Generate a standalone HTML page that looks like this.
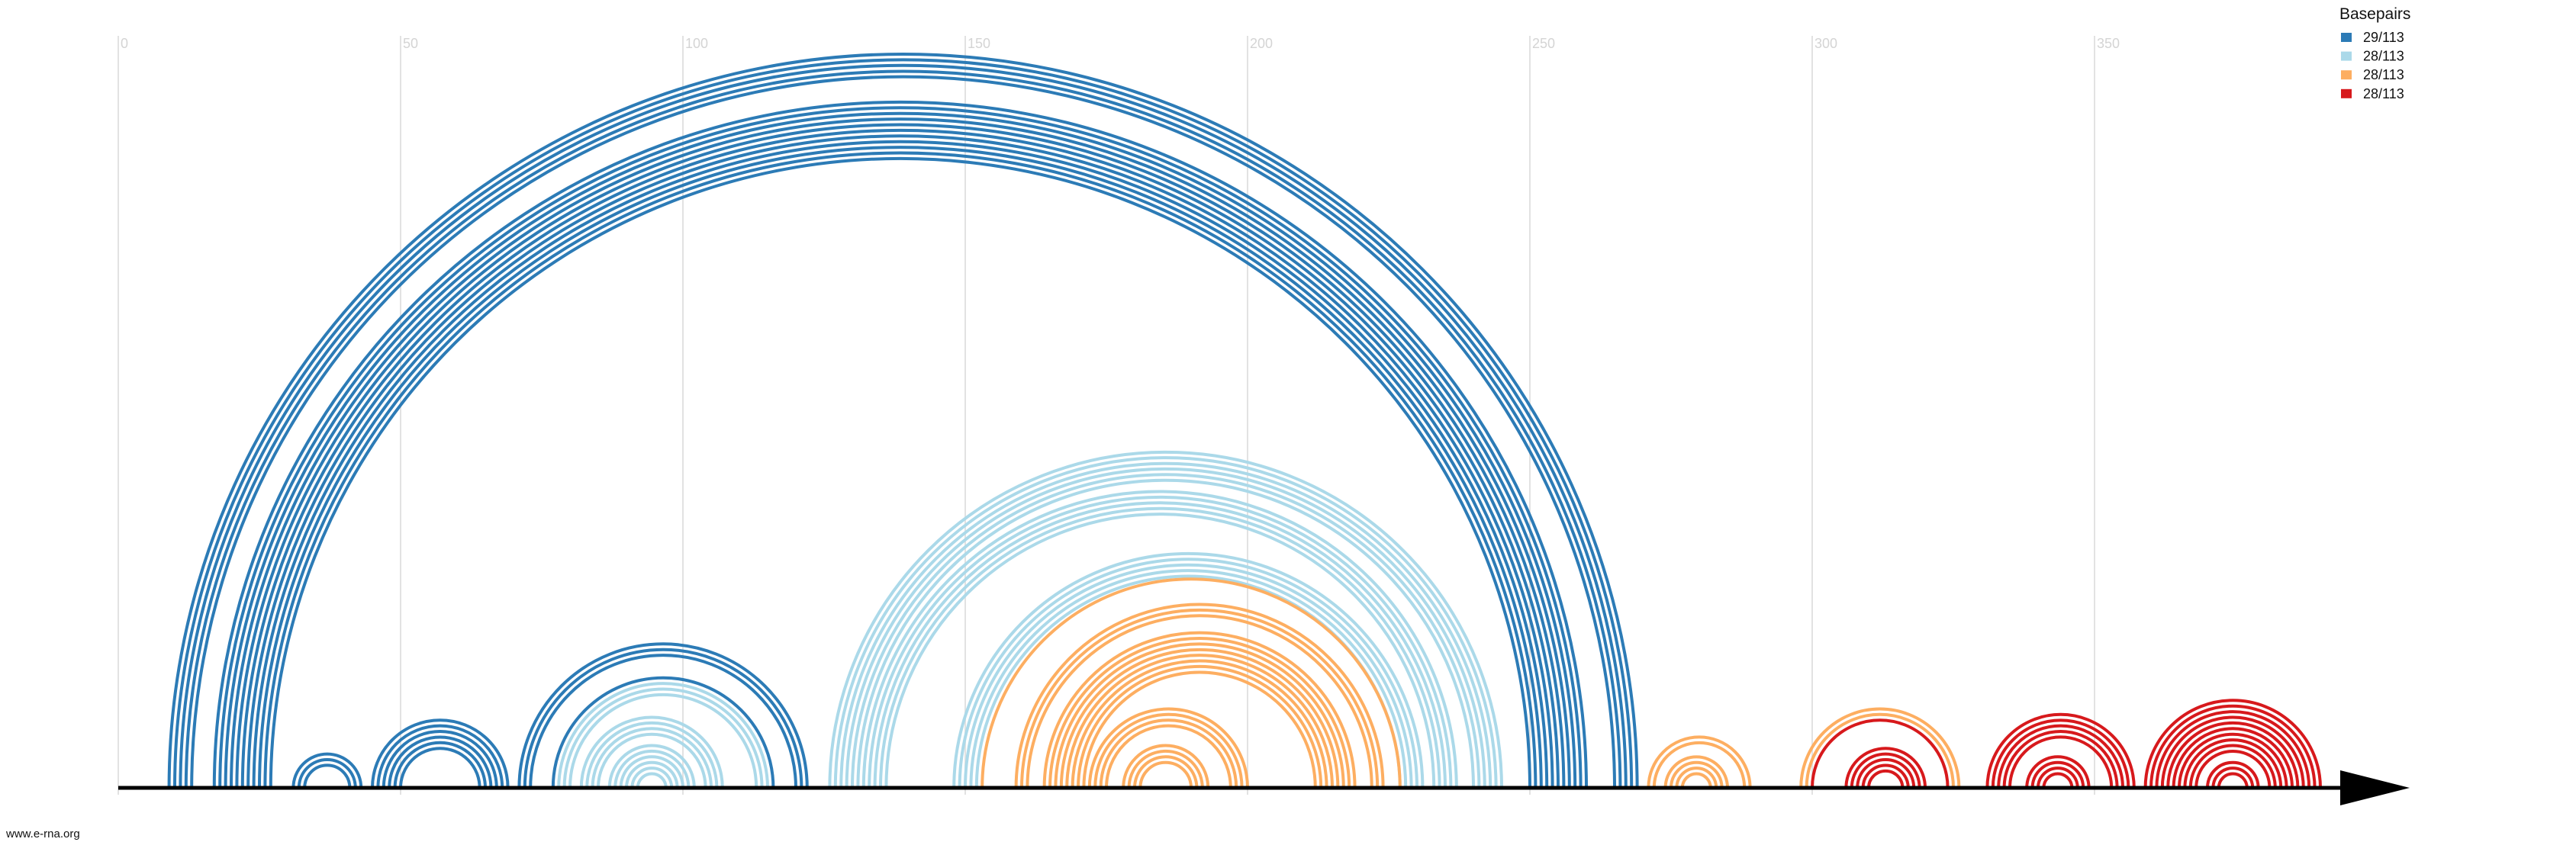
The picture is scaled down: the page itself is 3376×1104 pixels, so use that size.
<!DOCTYPE html>
<html><head><meta charset="utf-8"><style>
html,body{margin:0;padding:0;background:#fff;}
svg{display:block;font-family:"Liberation Sans",sans-serif;}
</style></head>
<body>
<svg id="chart" width="3376" height="1104" viewBox="0 0 3376 1104" xmlns="http://www.w3.org/2000/svg">
<g id="grid"></g>
<g id="arcs"></g>
<g id="axis">
<line x1="155" y1="1033" x2="3080" y2="1033" stroke="#000" stroke-width="5"/>
<polygon points="3067,1010 3158,1033 3067,1056" fill="#000"/>
</g>
<g id="legend">
<text x="3066" y="25" font-size="21" fill="#111">Basepairs</text>
</g>
<text x="8" y="1098" font-size="15" fill="#111">www.e-rna.org</text>
</svg>
<script>
const tickValues = [0,50,100,150,200,250,300,350];
const seriesColors = ["#2c7bb6","#abd9e9","#fdae61","#d7191c"];
const legendLabels = ["29/113","28/113","28/113","28/113"];
const blueStart = [9,10,11,12,13,17,18,19,20,21,22,23,24,25,26,27,31,32,33,45,46,47,48,49,50,71,72,73,77];
const blueEnd   = [269,268,267,266,265,260,259,258,257,256,255,254,253,252,251,250,43,42,41,69,68,67,66,65,64,122,121,120,116];
const lightStart = [78,79,80,82,83,84,85,87,88,89,90,91,92,126,127,128,129,130,131,132,133,134,135,136,148,149,150,151,152];
const lightEnd   = [115,114,113,107,106,105,104,102,101,100,99,98,97,245,244,243,242,241,240,237,236,235,234,233,231,230,229,228,227];
const orangeStart = [153,159,160,161,164,165,166,167,168,169,170,171,172,173,174,175,178,179,180,181,271,272,274,275,276,277,298,299];
const orangeEnd   = [227,224,223,222,219,218,217,216,215,214,213,212,200,199,198,197,193,192,191,190,289,288,285,284,283,282,326,325];
const redStart = [300,306,307,308,309,310,331,332,333,334,335,338,339,340,341,359,360,361,362,363,364,365,366,367,368,370,371,372];
const redEnd   = [324,320,319,318,317,316,357,356,355,354,353,349,348,347,346,390,389,388,387,386,385,384,383,382,381,379,378,377];

const NS="http://www.w3.org/2000/svg";
const X0=155, UNIT=7.4, BASE=1033;
function xScale(v){return X0+v*UNIT;}

const grid=document.getElementById('grid');
tickValues.forEach(t=>{
  const x=xScale(t);
  const l=document.createElementNS(NS,'line');
  
  
  l.setAttribute('x1',x);l.setAttribute('x2',x);l.setAttribute('y1',47);l.setAttribute('y2',1042);
  l.setAttribute('stroke','#e2e2e2');l.setAttribute('stroke-width','2');
  grid.appendChild(l);
  const tx=document.createElementNS(NS,'text');
  
  
  tx.setAttribute('x',x+3);tx.setAttribute('y',63);
  tx.setAttribute('font-size','18');tx.setAttribute('fill','#d4d4d4');
  tx.textContent=t;
  grid.appendChild(tx);
});

const arcs=document.getElementById('arcs');
function drawSeries(starts,ends,color,name){
  for(let i=0;i<starts.length;i++){
    const a=xScale(starts[i]), b=xScale(ends[i]);
    const r=Math.abs(b-a)/2;
    const p=document.createElementNS(NS,'path');
    
    
    p.setAttribute('d',`M${a},${BASE} A${r},${r} 0 0 1 ${b},${BASE}`);
    p.setAttribute('fill','none');p.setAttribute('stroke',color);p.setAttribute('stroke-width','4');
    arcs.appendChild(p);
  }
}
drawSeries(blueStart,blueEnd,seriesColors[0],'blue');
drawSeries(lightStart,lightEnd,seriesColors[1],'light-blue');
drawSeries(orangeStart,orangeEnd,seriesColors[2],'orange');
drawSeries(redStart,redEnd,seriesColors[3],'red');

const legend=document.getElementById('legend');
legendLabels.forEach((lab,i)=>{
  const y=43+i*24.6;
  const r=document.createElementNS(NS,'rect');
  
  
  r.setAttribute('x',3068);r.setAttribute('y',y);r.setAttribute('width',14);r.setAttribute('height',12);
  r.setAttribute('fill',seriesColors[i]);
  legend.appendChild(r);
  const t=document.createElementNS(NS,'text');
  
  
  t.setAttribute('x',3097);t.setAttribute('y',y+12);
  t.setAttribute('font-size','18');t.setAttribute('fill','#111');
  t.textContent=lab;
  legend.appendChild(t);
});
</script>
</body></html>
